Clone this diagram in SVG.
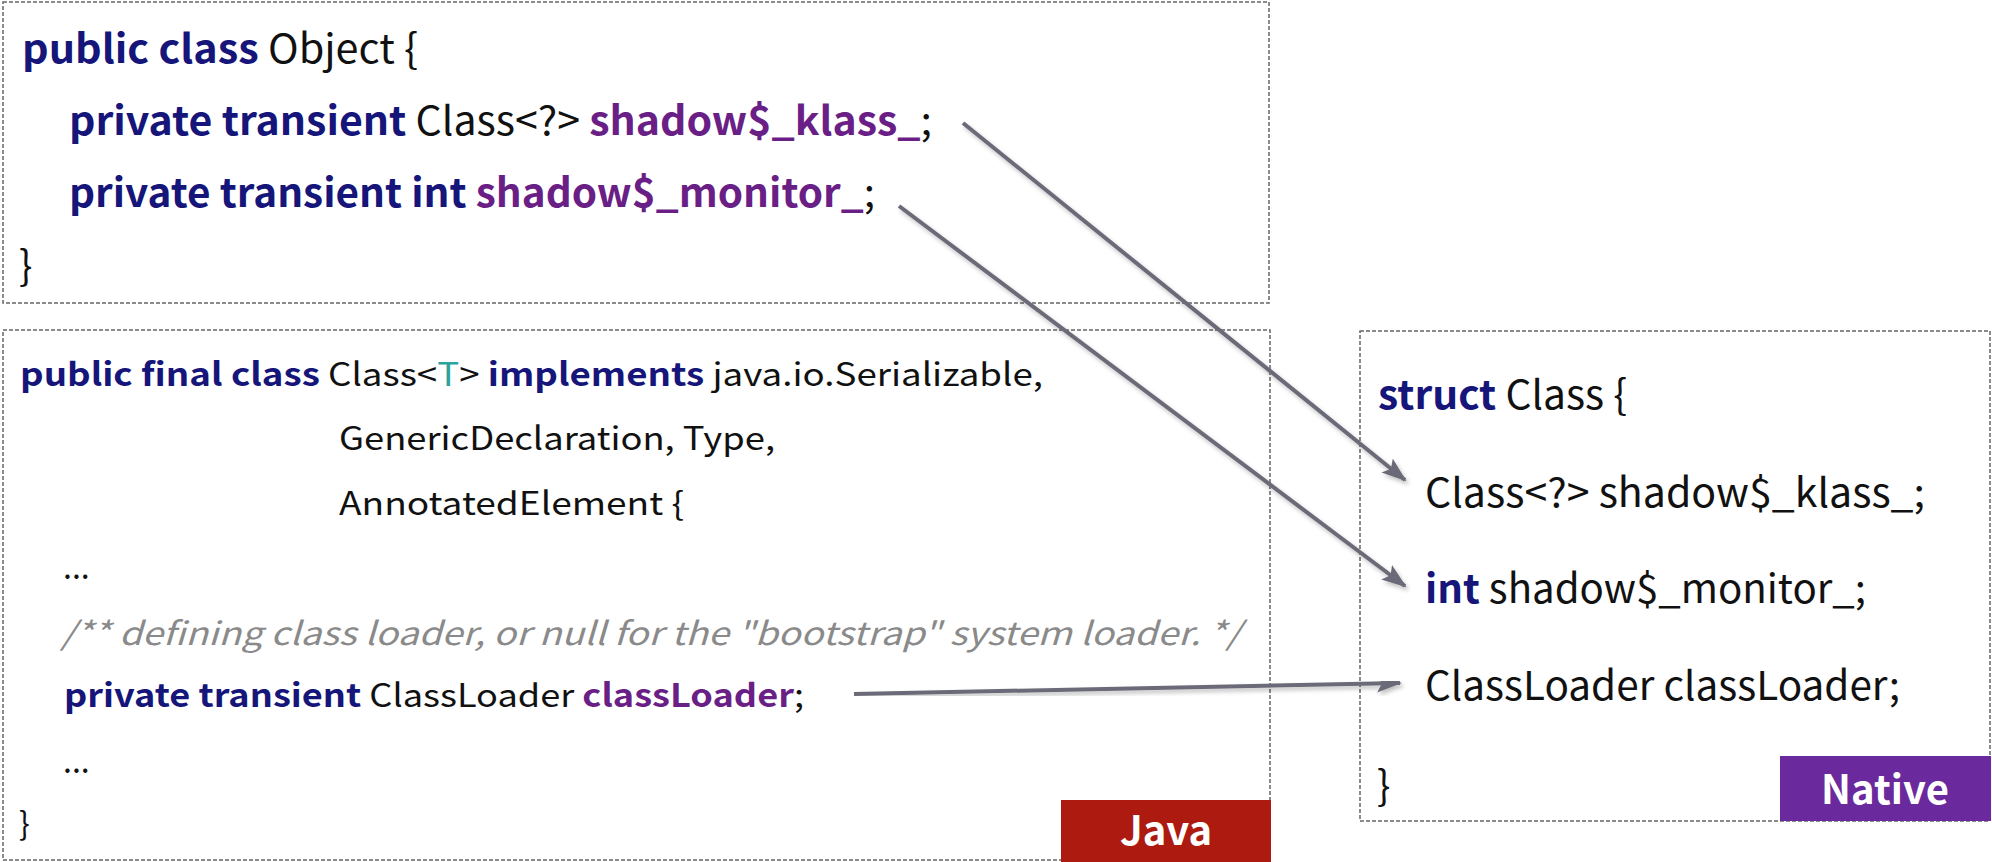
<svg xmlns="http://www.w3.org/2000/svg" width="1992" height="862" viewBox="0 0 1992 862">
<style>
  text { font-family: "Noto Sans CJK SC", "Noto Sans", "Liberation Sans", sans-serif; fill: #111; }
  .kw { fill: #15157a; font-weight: bold; }
  .fd { fill: #6a1f86; font-weight: bold; }
  .tp { fill: #2aa39a; }
  .cm { fill: #8a8a8a; font-style: italic; }
  .f40 { font-size: 40px; }
  .f32 { font-size: 32px; }
  .box { fill: #fff; stroke: #666; stroke-width: 1.5; stroke-dasharray: 4 2; }
  .badge { fill: #fff; font-weight: bold; text-anchor: middle; }
  .conn { stroke: #6b6b78; stroke-width: 4; fill: none; marker-end: url(#ah); filter: url(#sh); }
</style>
<defs>
  <marker id="ah" markerUnits="userSpaceOnUse" markerWidth="26" markerHeight="20" refX="23" refY="9" orient="auto">
    <path d="M0,0 L25,9 L0,18 L5,9 z" fill="#6b6b78"/>
  </marker>
  <filter id="sh" x="-10%" y="-10%" width="120%" height="120%">
    <feDropShadow dx="2" dy="3" stdDeviation="2" flood-color="#000" flood-opacity="0.25"/>
  </filter>
</defs>
<rect width="1992" height="862" fill="#fff"/>

<g id="object-box">
  <rect class="box" x="3" y="2" width="1266" height="301"/>
  <text class="f40" x="22" y="63" textLength="396" lengthAdjust="spacingAndGlyphs"><tspan class="kw">public class</tspan> Object {</text>
  <text class="f40" x="69" y="135" textLength="863" lengthAdjust="spacingAndGlyphs"><tspan class="kw">private transient</tspan> Class&lt;?&gt; <tspan class="fd">shadow$_klass_</tspan>;</text>
  <text class="f40" x="69" y="207" textLength="806" lengthAdjust="spacingAndGlyphs"><tspan class="kw">private transient int</tspan> <tspan class="fd">shadow$_monitor_</tspan>;</text>
  <text class="f40" x="19" y="280">}</text>
</g>

<g id="java-class-box">
  <rect class="box" x="3" y="330" width="1267" height="530"/>
  <text class="f32" x="20" y="386" textLength="1023" lengthAdjust="spacingAndGlyphs"><tspan class="kw">public final class</tspan> Class&lt;<tspan class="tp">T</tspan>&gt; <tspan class="kw">implements</tspan> java.io.Serializable,</text>
  <text class="f32" x="339" y="450" textLength="436" lengthAdjust="spacingAndGlyphs">GenericDeclaration, Type,</text>
  <text class="f32" x="339" y="515" textLength="345" lengthAdjust="spacingAndGlyphs">AnnotatedElement {</text>
  <text class="f32" x="63" y="579">...</text>
  <text class="f32 cm" x="61" y="645" textLength="1180" lengthAdjust="spacingAndGlyphs">/** defining class loader, or null for the "bootstrap" system loader. */</text>
  <text class="f32" x="64" y="707" textLength="740" lengthAdjust="spacingAndGlyphs"><tspan class="kw">private transient</tspan> ClassLoader <tspan class="fd">classLoader</tspan>;</text>
  <text class="f32" x="63" y="773">...</text>
  <text class="f32" x="19" y="835">}</text>
  <rect x="1061" y="800" width="210" height="62" fill="#ad1a10"/>
  <text class="badge" x="1166" y="845" style="font-size:40px">Java</text>
</g>

<g id="native-struct-box">
  <rect class="box" x="1360" y="331" width="630" height="490"/>
  <text class="f40" x="1378" y="409" textLength="249" lengthAdjust="spacingAndGlyphs"><tspan class="kw">struct</tspan> Class {</text>
  <text class="f40" x="1425" y="507" textLength="500" lengthAdjust="spacingAndGlyphs">Class&lt;?&gt; shadow$_klass_;</text>
  <text class="f40" x="1425" y="603" textLength="441" lengthAdjust="spacingAndGlyphs"><tspan class="kw">int</tspan> shadow$_monitor_;</text>
  <text class="f40" x="1425" y="700" textLength="475" lengthAdjust="spacingAndGlyphs">ClassLoader classLoader;</text>
  <text class="f40" x="1377" y="800">}</text>
  <rect x="1780" y="756" width="211" height="65" fill="#6a2a9e"/>
  <text class="badge" x="1885" y="804" style="font-size:40px">Native</text>
</g>

<g id="connectors">
  <line class="conn" x1="963" y1="123" x2="1405" y2="480"/>
  <line class="conn" x1="899" y1="206" x2="1405" y2="586"/>
  <line class="conn" x1="854" y1="694" x2="1400" y2="683"/>
</g>
</svg>
